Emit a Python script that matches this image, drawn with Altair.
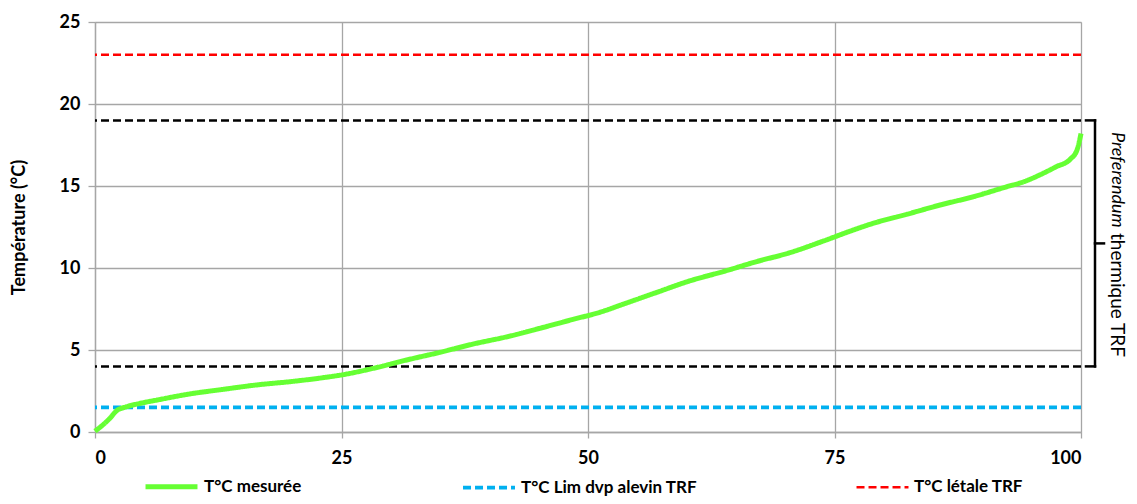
import altair as alt
import pandas as pd

# ---- data ----
pct = [0, 1.5, 2.2, 3.2, 4.6, 6.3, 9.6, 13.0, 16.4, 19.8, 23.1, 25.2, 28.2, 31.6,
       35.0, 38.4, 41.8, 45.1, 48.5, 51.2, 53.6, 57.0, 60.3, 63.7, 67.1, 70.5,
       73.9, 76.6, 78.9, 82.3, 85.7, 89.1, 92.5, 94.2, 95.8, 97.5, 98.9, 99.6, 100]
temp = [0.05, 0.83, 1.3, 1.54, 1.75, 1.95, 2.32, 2.6, 2.87, 3.07, 3.31, 3.5, 3.88,
        4.39, 4.86, 5.37, 5.81, 6.32, 6.87, 7.3, 7.8, 8.52, 9.21, 9.78, 10.39,
        10.94, 11.65, 12.25, 12.72, 13.27, 13.84, 14.35, 14.96, 15.26, 15.67,
        16.18, 16.63, 17.2, 18.2]

series = ["T°C mesurée", "T°C Lim dvp alevin TRF", "T°C létale TRF"]
series_colors = ["#66ff33", "#00b0f0", "#ff0000"]
ref_levels = [1.5, 23.0]          # Lim dvp alevin, létale
pref_bounds = [4.0, 19.0]         # preferendum thermique
x_ticks = [0, 25, 50, 75, 100]
y_ticks = [0, 5, 10, 15, 20, 25]

FONT = "Lato"
GRID = "#a6a6a6"

curve_df = pd.DataFrame({"x": pct, "y": temp, "serie": series[0]})
ref_df = pd.DataFrame({"y": ref_levels, "serie": series[1:]})
pref_df = pd.DataFrame({"y": pref_bounds})
brk_df = pd.DataFrame({"lo": [pref_bounds[0]], "hi": [pref_bounds[1]],
                       "mid": [sum(pref_bounds) / 2]})

xscale = alt.Scale(domain=[0, 100], nice=False, zero=False)
yscale = alt.Scale(domain=[0, 25], nice=False)

color = alt.Color(
    "serie:N",
    scale=alt.Scale(domain=series, range=series_colors),
    legend=alt.Legend(
        title=None, orient="none", legendX=48, legendY=436,
        direction="horizontal", symbolType="stroke", symbolSize=2700,
        labelFont=FONT, labelFontSize=17, labelFontWeight="bold",
        labelColor="black", labelOffset=4, columnPadding=153, labelLimit=400,
    ),
)
dash = alt.StrokeDash("serie:N", scale=alt.Scale(domain=series,
                      range=[[1, 0], [8, 4], [8, 4]]), legend=alt.Legend(title=None))
sw = alt.StrokeWidth("serie:N", scale=alt.Scale(domain=series,
                     range=[5, 2.5, 2.5]), legend=alt.Legend(title=None))

xaxis = alt.Axis(values=x_ticks, title=None, grid=True, gridColor=GRID, gridWidth=1.3,
                 domainColor=GRID, domainWidth=1.3, tickColor=GRID, tickWidth=1.3,
                 tickSize=6, labelFont=FONT, labelFontSize=18, labelFontWeight="bold",
                 labelColor="black", labelPadding=11)
yaxis = alt.Axis(values=y_ticks, title="Température (°C)", grid=True, gridColor=GRID,
                 gridWidth=1.3, domainColor=GRID, domainWidth=1.3, tickColor=GRID,
                 tickWidth=1.3, tickSize=7, labelFont=FONT, labelFontSize=18,
                 labelFontWeight="bold", labelColor="black", labelPadding=8,
                 titleFont=FONT, titleFontSize=18, titleFontWeight="bold",
                 titleColor="black", titleX=-76, titleY=205, titleAngle=-90,
                 titleAlign="center", titleBaseline="middle")

refs = alt.Chart(ref_df).mark_rule().encode(
    y=alt.Y("y:Q", scale=yscale, axis=yaxis),
    color=color, strokeDash=dash, strokeWidth=sw,
)
prefs = alt.Chart(pref_df).mark_rule(color="black", strokeWidth=2.5,
                                     strokeDash=[8, 4]).encode(
    y=alt.Y("y:Q", scale=yscale),
)
curve = alt.Chart(curve_df).mark_line(interpolate="monotone").encode(
    x=alt.X("x:Q", scale=xscale, axis=xaxis),
    y=alt.Y("y:Q", scale=yscale),
    color=color, strokeDash=dash, strokeWidth=sw,
)

# bracket for the preferendum
bk = dict(color="black", strokeWidth=2.5, strokeCap="square")
b_vert = alt.Chart(brk_df).mark_rule(**bk).encode(
    x=alt.value(1000), y=alt.Y("hi:Q", scale=yscale), y2="lo:Q")
b_top = alt.Chart(brk_df).mark_rule(**bk).encode(
    x=alt.value(991), x2=alt.value(1000), y=alt.Y("hi:Q", scale=yscale))
b_bot = alt.Chart(brk_df).mark_rule(**bk).encode(
    x=alt.value(991), x2=alt.value(1000), y=alt.Y("lo:Q", scale=yscale))
b_tip = alt.Chart(brk_df).mark_rule(**bk).encode(
    x=alt.value(1000), x2=alt.value(1009), y=alt.Y("mid:Q", scale=yscale))

t1 = alt.Chart(brk_df).mark_text(angle=90, align="left", baseline="middle",
                                 font=FONT, fontSize=18, fontStyle="italic",
                                 color="black").encode(
    x=alt.value(1022), y=alt.value(110), text=alt.value("Preferendum"))
t2 = alt.Chart(brk_df).mark_text(angle=90, align="left", baseline="middle",
                                 font=FONT, fontSize=19, color="black").encode(
    x=alt.value(1022), y=alt.value(211), text=alt.value("thermique TRF"))

chart = alt.layer(refs, prefs, curve, b_vert, b_top, b_bot, b_tip, t1, t2).properties(
    width=986, height=410,
    autosize=alt.AutoSizeParams(type="none"),
    padding={"left": 87, "top": 14, "right": 48, "bottom": 64},
).configure_view(stroke=None).configure(background="white")

chart.save("out.html", embed_options={"renderer": "svg", "actions": False})
